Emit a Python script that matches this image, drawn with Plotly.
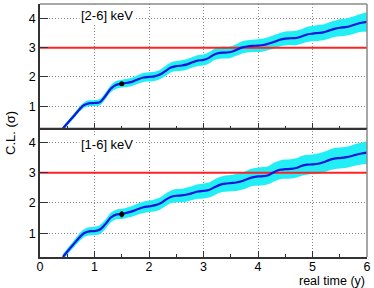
import plotly.graph_objects as go

# time grid (years)
t = [0.42, 0.6, 0.8, 0.9, 1.0, 1.1, 1.2, 1.3, 1.4, 1.5, 1.6, 1.7, 1.8, 1.9, 2.0,
     2.1, 2.2, 2.3, 2.4, 2.5, 2.6, 2.7, 2.8, 2.9, 3.0, 3.1, 3.2, 3.3, 3.4, 3.5,
     3.6, 3.7, 3.8, 3.9, 4.0, 4.1, 4.2, 4.3, 4.4, 4.5, 4.6, 4.7, 4.8, 4.9, 5.0,
     5.1, 5.2, 5.3, 5.4, 5.5, 5.6, 5.7, 5.8, 5.9, 6.0]

# [2-6] keV confidence level (sigma)
cl_26 = [0.24, 0.62, 1.03, 1.10, 1.11, 1.14, 1.35, 1.60, 1.73, 1.77, 1.80, 1.84, 1.92, 1.98, 2.00,
         2.02, 2.08, 2.20, 2.32, 2.37, 2.39, 2.43, 2.50, 2.56, 2.58, 2.65, 2.77, 2.82, 2.83, 2.85,
         2.92, 3.00, 3.04, 3.06, 3.07, 3.09, 3.14, 3.20, 3.27, 3.31, 3.32, 3.33, 3.38, 3.45, 3.48,
         3.50, 3.52, 3.58, 3.64, 3.68, 3.70, 3.74, 3.80, 3.85, 3.88]
err_26 = [0.07, 0.08, 0.09, 0.10, 0.10, 0.11, 0.11, 0.12, 0.13, 0.13, 0.14, 0.14, 0.15, 0.15, 0.16,
          0.16, 0.16, 0.17, 0.17, 0.17, 0.18, 0.18, 0.18, 0.19, 0.19, 0.19, 0.19, 0.20, 0.20, 0.20,
          0.20, 0.21, 0.21, 0.21, 0.22, 0.22, 0.22, 0.23, 0.23, 0.24, 0.24, 0.25, 0.25, 0.26, 0.26,
          0.27, 0.27, 0.28, 0.28, 0.29, 0.29, 0.30, 0.30, 0.31, 0.31]

# [1-6] keV confidence level (sigma)
cl_16 = [0.21, 0.60, 0.99, 1.06, 1.07, 1.12, 1.30, 1.52, 1.62, 1.64, 1.68, 1.73, 1.80, 1.86, 1.89,
         1.92, 1.98, 2.10, 2.20, 2.24, 2.25, 2.28, 2.33, 2.38, 2.40, 2.43, 2.52, 2.60, 2.64, 2.66,
         2.68, 2.72, 2.79, 2.85, 2.88, 2.89, 2.93, 3.03, 3.10, 3.12, 3.13, 3.16, 3.23, 3.27, 3.28,
         3.30, 3.35, 3.42, 3.47, 3.49, 3.51, 3.55, 3.60, 3.64, 3.67]
err_16 = [0.10, 0.11, 0.13, 0.14, 0.14, 0.15, 0.15, 0.16, 0.16, 0.17, 0.17, 0.18, 0.18, 0.19, 0.19,
          0.20, 0.20, 0.21, 0.21, 0.22, 0.22, 0.23, 0.23, 0.24, 0.25, 0.25, 0.26, 0.26, 0.27, 0.27,
          0.28, 0.28, 0.29, 0.29, 0.30, 0.30, 0.30, 0.31, 0.31, 0.32, 0.32, 0.32, 0.33, 0.33, 0.33,
          0.34, 0.34, 0.34, 0.35, 0.35, 0.35, 0.35, 0.36, 0.36, 0.36]

# measured points
pt_t = [1.5]
pt_26 = [1.77]
pt_26_err = [0.05]
pt_16 = [1.63]
pt_16_err = [0.10]

threshold = 3
x_range = [0, 6]
panel_labels = ["[2-6] keV", "[1-6] keV"]

fig = go.Figure()

CYAN = "#22eef6"
BLUE = "#1414dc"
RED = "#ff2222"


def add_panel(cl, err, pts, pts_err, xa, ya):
    lo = [v - e for v, e in zip(cl, err)]
    hi = [v + e for v, e in zip(cl, err)]
    fig.add_trace(go.Scatter(x=t + t[::-1], y=hi + lo[::-1], fill="toself",
                             fillcolor=CYAN, line=dict(width=0, shape="spline"),
                             mode="lines", hoverinfo="skip", showlegend=False,
                             xaxis=xa, yaxis=ya))
    fig.add_trace(go.Scatter(x=x_range, y=[threshold, threshold], mode="lines",
                             line=dict(color=RED, width=2), showlegend=False,
                             xaxis=xa, yaxis=ya))
    fig.add_trace(go.Scatter(x=t, y=cl, mode="lines",
                             line=dict(color=BLUE, width=2.2, shape="spline"),
                             showlegend=False, xaxis=xa, yaxis=ya))
    fig.add_trace(go.Scatter(x=pt_t, y=pts, mode="markers",
                             marker=dict(color="black", size=5),
                             error_y=dict(type="data", array=pts_err, color="black",
                                          thickness=2, width=0),
                             showlegend=False, xaxis=xa, yaxis=ya))


add_panel(cl_26, err_26, pt_26, pt_26_err, "x", "y")
add_panel(cl_16, err_16, pt_16, pt_16_err, "x2", "y2")

FAM = "Liberation Sans, Arial, sans-serif"
font = dict(family=FAM, size=12.5, color="black")

xcommon = dict(range=x_range, dtick=1, ticks="inside", ticklen=6, tickwidth=1,
               tickcolor="#333", showline=True, linecolor="#333", linewidth=1.5,
               showgrid=True, gridcolor="#888", griddash="1px,2px", gridwidth=1,
               zeroline=False, tickfont=font,
               minor=dict(dtick=0.5, ticks="inside", ticklen=3, tickcolor="#333",
                          showgrid=False))
ycommon = dict(tickvals=[1, 2, 3, 4], ticks="inside", ticklen=8, tickwidth=1,
               tickcolor="#333", showline=True, linecolor="#333", linewidth=1.5,
               showgrid=True, gridcolor="#888", griddash="1px,2px", gridwidth=1,
               zeroline=False, tickfont=font)

split = 0.508
fig.update_layout(
    width=374, height=288,
    margin=dict(l=40, r=7, t=4, b=31),
    paper_bgcolor="white", plot_bgcolor="white",
    font=font,
    xaxis=dict(**xcommon, domain=[0, 1], anchor="y", matches="x2", showticklabels=False),
    yaxis=dict(**ycommon, domain=[split, 1], range=[0.24, 4.49], anchor="x"),
    xaxis2=dict(**xcommon, domain=[0, 1], anchor="y2", showticklabels=True,
                ticklabelstandoff=-3),
    yaxis2=dict(**ycommon, domain=[0, split], range=[0.21, 4.47], anchor="x2"),
    shapes=[
        dict(type="line", xref="paper", yref="paper", x0=0, x1=1, y0=1, y1=1,
             line=dict(color="#888", width=1.5)),
        dict(type="line", xref="paper", yref="paper", x0=1, x1=1, y0=0, y1=1,
             line=dict(color="#888", width=1.5)),
        dict(type="line", xref="paper", yref="paper", x0=0, x1=1, y0=split, y1=split,
             line=dict(color="#333", width=1.5)),
    ],
    annotations=[
        dict(text=panel_labels[0], xref="paper", yref="paper", x=0.118, y=0.955,
             xanchor="left", yanchor="middle", showarrow=False,
             font=dict(family=FAM, size=13, color="black"), bgcolor="white"),
        dict(text=panel_labels[1], xref="paper", yref="paper", x=0.118, y=0.445,
             xanchor="left", yanchor="middle", showarrow=False,
             font=dict(family=FAM, size=13, color="black"), bgcolor="white"),
        dict(text="C.L. (σ)", xref="paper", yref="paper", x=-0.092, y=0.49,
             xanchor="center", yanchor="middle", textangle=-90, showarrow=False,
             font=dict(family=FAM, size=13, color="black")),
        dict(text="real time (y)", xref="paper", yref="paper", x=1.0, y=-0.093,
             xanchor="right", yanchor="middle", showarrow=False,
             font=dict(family=FAM, size=12.5, color="black")),
    ],
)

fig.write_html("out.html", config={"displayModeBar": False},
               post_script="document.body.style.margin='0';")
